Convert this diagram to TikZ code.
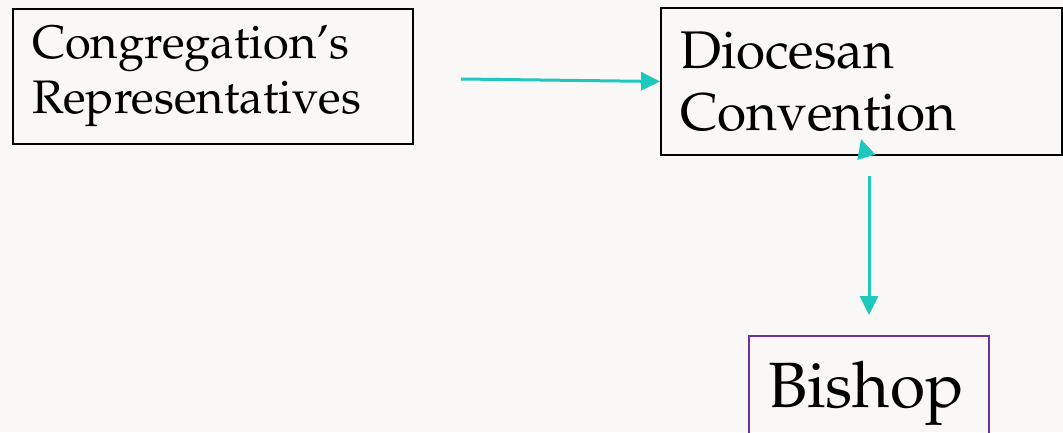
\documentclass[tikz,border=0pt]{standalone}
\usepackage[T1]{fontenc}
\usepackage{mathpazo}
\usetikzlibrary{arrows.meta}
\definecolor{paper}{RGB}{250,248,246}
\definecolor{arrowteal}{RGB}{30,200,190}
\definecolor{bishopline}{RGB}{112,48,160}
\begin{document}
\begin{tikzpicture}[x=1pt,y=-1pt,
  boxnode/.style={draw=black, line width=1.8pt, rectangle, inner xsep=19pt, inner ysep=0pt, align=left},
  arr/.style={draw=arrowteal, line width=3pt, -{Triangle[length=19pt,width=18pt]}}]
\fill[paper] (0,0) rectangle (1063,432);
\useasboundingbox (0,0) rectangle (1063,432);
\begin{scope}
\clip (0,0) rectangle (1063,432);
\node[boxnode, minimum width=400pt, minimum height=135pt, text width=362pt,
  font=\fontsize{47}{55}\selectfont] (cong) at (213,76.5) {Congregation's\\Representatives};
\node[boxnode, minimum width=401pt, minimum height=147pt, text width=363pt,
  font=\fontsize{53}{62}\selectfont] (dioc) at (861.5,81.5) {Diocesan\\Convention};
\node[boxnode, draw=bishopline, line width=1.5pt, minimum width=240pt, minimum height=120pt, text width=202pt,
  font=\fontsize{64}{70}\selectfont, anchor=north] (bish) at (869,335) {\raisebox{0pt}[0pt][0pt]{}\\[-28pt]Bishop};
\end{scope}
\coordinate (a1) at (461,79);
\coordinate (a2) at (869,176);
\coordinate (a3) at (866,156);
\coordinate (a4) at (861,139);
\draw[arr] (a1) -- (dioc.west);
\draw[arr, shorten >=20pt] (a2) -- (bish.north);
\draw[arr] (a3) -- (a4);
\end{tikzpicture}
\end{document}
